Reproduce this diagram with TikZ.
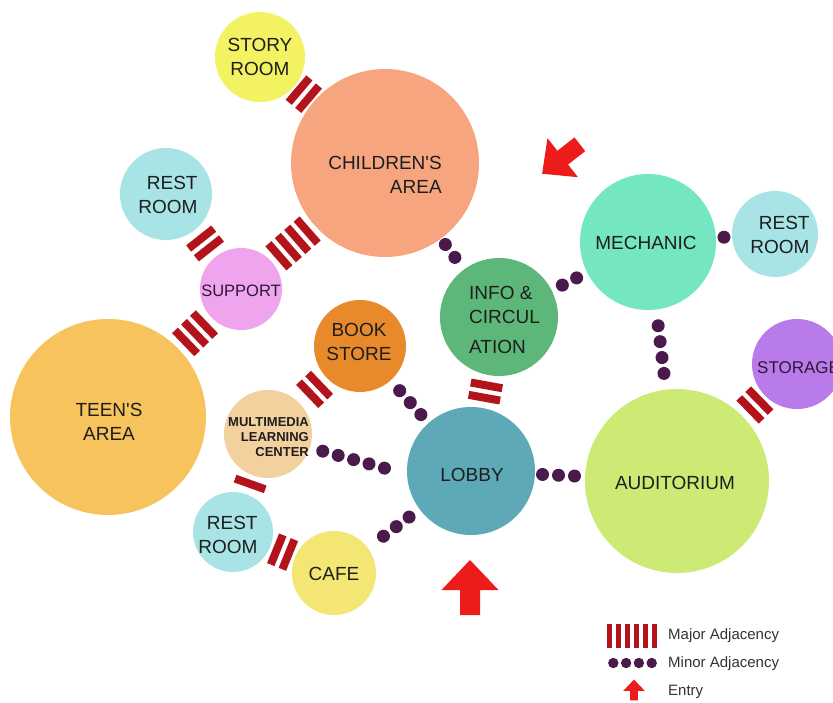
\documentclass[tikz,border=0pt]{standalone}
\usepackage{fontspec}
\setmainfont{Liberation Sans}[Ligatures=TeXOff]
\usetikzlibrary{calc}
\definecolor{storyc}{HTML}{F2F263}
\definecolor{childc}{HTML}{F7A57F}
\definecolor{restc}{HTML}{A8E4E6}
\definecolor{supc}{HTML}{EEA5EE}
\definecolor{teenc}{HTML}{F6C35C}
\definecolor{bookc}{HTML}{E88A2C}
\definecolor{mmc}{HTML}{F3D19F}
\definecolor{cafec}{HTML}{F4E672}
\definecolor{lobbyc}{HTML}{5EA9B7}
\definecolor{infoc}{HTML}{5DB77A}
\definecolor{mechc}{HTML}{74E6C1}
\definecolor{storc}{HTML}{B97BE9}
\definecolor{audc}{HTML}{CDEB74}
\definecolor{barred}{HTML}{B3141C}
\definecolor{dotc}{HTML}{4A1A4C}
\definecolor{arrowred}{HTML}{EE1B1B}
\definecolor{ink}{HTML}{1E1E1E}
\definecolor{purpink}{HTML}{2E1538}
\definecolor{legink}{HTML}{333333}
\tikzset{
  room/.style={circle, inner sep=0pt, outer sep=0pt, draw=none},
  lbl/.style={font=\fontsize{19}{24}\selectfont, text=ink, inner sep=0pt, align=center},
  legtext/.style={font=\fontsize{15}{18}\selectfont, text=legink, inner sep=0pt, anchor=west},
  majorbars/.pic={\foreach \k in {1,...,#1}{\fill[barred] ({(\k-(#1+1)/2)*12.5-4},-16) rectangle ++(8,32);}},
  minordots/.pic={\foreach \k in {1,...,#1}{\fill[dotc] ({(\k-(#1+1)/2)*16},0) circle (6.5);}},
  entry/.pic={\fill[arrowred] (0,-27.5) -- (28.5,2.5) -- (10,2.5) -- (10,27.5) -- (-10,27.5) -- (-10,2.5) -- (-28.5,2.5) -- cycle;}
}
\begin{document}
\begin{tikzpicture}[x=1pt,y=-1pt]
\useasboundingbox (0,0) rectangle (833,702);
\fill[white] (0,0) rectangle (833,702);
% rooms
\node[room, minimum size=90pt, fill=storyc] (story) at (260,57) {};
\node[room, minimum size=188pt, fill=childc] (child) at (385,163) {};
\node[room, minimum size=92pt, fill=restc] (restl) at (166,194) {};
\node[room, minimum size=82pt, fill=supc] (sup) at (241,289) {};
\node[room, minimum size=196pt, fill=teenc] (teen) at (108,417) {};
\node[room, minimum size=92pt, fill=bookc] (book) at (360,346) {};
\node[room, minimum size=88pt, fill=mmc] (mm) at (268,434) {};
\node[room, minimum size=80pt, fill=restc] (restb) at (233,532) {};
\node[room, minimum size=84pt, fill=cafec] (cafe) at (334,573) {};
\node[room, minimum size=128pt, fill=lobbyc] (lobby) at (471,471) {};
\node[room, minimum size=118pt, fill=infoc] (info) at (499,317) {};
\node[room, minimum size=136pt, fill=mechc] (mech) at (648,242) {};
\node[room, minimum size=86pt, fill=restc] (restr) at (775,234) {};
\node[room, minimum size=90pt, fill=storc] (stor) at (797,364) {};
\node[room, minimum size=184pt, fill=audc] (aud) at (677,481) {};
% major adjacencies
\path (story) -- (child) pic[pos=0.5, sloped]{majorbars=2};
\path (restl) -- (sup) pic[pos=0.5, sloped]{majorbars=2};
\path (child) -- (sup) pic[pos=0.5, sloped]{majorbars=4};
\path (sup) -- (teen) pic[pos=0.5, sloped]{majorbars=3};
\path (book) -- (mm) pic[pos=0.45, sloped]{majorbars=2};
\path (mm) -- (restb) pic[pos=0.45, sloped]{majorbars=1};
\path (restb) -- (cafe) pic[pos=0.5, sloped]{majorbars=2};
\path (info) -- (lobby) pic[pos=0.5, sloped]{majorbars=2};
\path (stor) -- (aud) pic[pos=0.45, sloped]{majorbars=2};
% minor adjacencies
\path (child) -- (info) pic[pos=0.4, sloped]{minordots=2};
\path (info) -- (mech) pic[pos=0.5, sloped]{minordots=2};
\path (mech) -- (aud) pic[pos=0.5, sloped]{minordots=4};
\path (mech) -- (restr) pic[pos=0.5, sloped]{minordots=1};
\path (book) -- (lobby) pic[pos=0.52, sloped]{minordots=3};
\path (mm.-18) -- (lobby.183) pic[pos=0.45, sloped]{minordots=5};
\path (cafe) -- (lobby) pic[pos=0.55, sloped]{minordots=3};
\path (lobby) -- (aud) pic[pos=0.47, sloped]{minordots=3};
% labels
\node[lbl] (story-l) at (260,57) {STORY\\ROOM};
\node[lbl, align=right] (child-l) at (385,175) {CHILDREN'S\\AREA};
\node[lbl, align=right] (restl-l) at (168,195) {REST\\ROOM};
\node[lbl, text=purpink, font=\fontsize{16.5}{20}\selectfont] (sup-l) at (241,291) {SUPPORT};
\node[lbl] (teen-l) at (109,422) {TEEN'S\\AREA};
\node[lbl] (book-l) at (359,342) {BOOK\\STORE};
\node[lbl, align=right, font=\bfseries\fontsize{13}{15}\selectfont] (mm-l) at (268.5,437) {MULTIMEDIA\\LEARNING\\CENTER};
\node[lbl, align=right] (restb-l) at (228,535) {REST\\ROOM};
\node[lbl] (cafe-l) at (334,574) {CAFE};
\node[lbl, align=left, anchor=west] (info-l) at (469,320) {INFO \&\\CIRCUL\\[6pt]ATION};
\node[lbl] (mech-l) at (646,243) {MECHANIC};
\node[lbl, align=right] (restr-l) at (780,235) {REST\\ROOM};
\node[lbl, text=purpink, anchor=west, font=\fontsize{17}{20}\selectfont] (stor-l) at (757,368) {STORAGE};
\node[lbl] (lobby-l) at (472,475) {LOBBY};
\node[lbl] (aud-l) at (675,483) {AUDITORIUM};
% entry arrows
\pic at (470,587.5) {entry};
\pic[rotate=128, scale=0.87] at (561,159) {entry};
% legend
\pic[scale=0.72] at (632,636) {majorbars=6};
\pic[scale=0.8] at (632.5,663) {minordots=4};
\pic[scale=0.38] at (634,690) {entry};
\node[legtext] (leg1) at (668,636) {Major Adjacency};
\node[legtext] (leg2) at (668,664) {Minor Adjacency};
\node[legtext] (leg3) at (668,692) {Entry};
\end{tikzpicture}
\end{document}
